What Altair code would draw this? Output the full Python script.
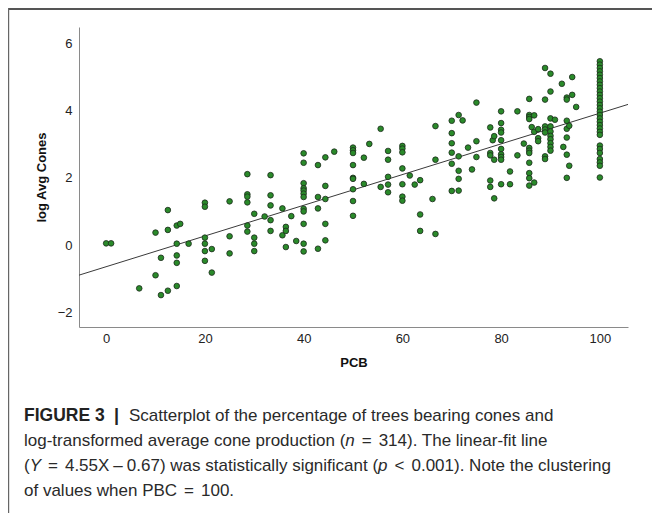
import altair as alt
import pandas as pd

# ---- data ----
pcb_columns = [0, 1, 6.7, 10, 11.1, 12.5, 14.3, 15, 16.7, 20, 21.4, 25, 28.6, 30, 32.1,
               33.3, 35.7, 36.4, 37.5, 38.5, 40, 42.9, 44.4, 46.2, 50, 52.2, 53.3, 55.6,
               57.1, 60, 61.5, 62.5, 63.6, 66.1, 66.7, 70, 71.4, 72.2, 73.3, 74.1, 75,
               77.8, 78.3, 78.6, 80, 81.8, 83.3, 84.6, 85.7, 86.2, 86.7, 87.5, 88.9, 90,
               90.9, 92.3, 92.6, 93.3, 93.8, 94.4, 95.2, 100]
log_cones_by_pcb = [
    [0.05], [0.05], [-1.29], [0.37, -0.9], [-0.38, -1.49], [1.04, 0.45, -1.36],
    [0.58, 0.04, -0.31, -0.53, -1.22], [0.63], [0.04],
    [1.26, 1.14, 0.22, 0.04, -0.18, -0.47], [-0.12, -0.82], [1.3, 0.26, -0.25],
    [2.11, 1.51, 1.44, 1.27, 0.58, 0.4], [0.93, 0.22, 0.04, -0.18], [0.85],
    [2.08, 1.48, 1.18, 0.74, 0.42], [1.09, 0.29], [0.54, 0.42, -0.06], [0.86], [0.12],
    [2.73, 2.45, 1.84, 1.69, 1.62, 1.53, 1.43, 1.08, 1.0, 0.63, 0.04, -0.19],
    [2.38, 1.43, 1.09, -0.11], [2.61, 1.76, 1.37, 0.63, 0.14], [2.78],
    [2.9, 2.82, 2.74, 2.38, 2.0, 1.97, 1.66, 1.31, 0.87], [2.6, 1.82], [3.01],
    [3.46, 1.73], [2.8, 2.54, 2.03, 1.8, 1.57], [2.95, 2.87, 2.76, 2.28, 1.81, 1.44, 1.32],
    [2.07], [1.8], [1.93, 0.91, 0.42], [1.37], [3.54, 2.54, 0.33],
    [3.7, 3.33, 3.03, 2.75, 2.42, 1.61], [3.87, 2.64, 2.21, 1.97, 1.62], [3.71], [2.9],
    [2.25], [4.24, 3.09, 2.62], [3.5, 2.74, 2.67, 1.92, 1.73], [3.12], [3.24, 2.54, 1.39],
    [3.98, 3.63, 3.43, 3.35, 3.12, 2.86, 2.7, 2.62, 2.54, 1.81], [2.19, 1.81], [3.98, 2.67],
    [3.02], [4.35, 3.87, 3.81, 3.75, 2.89, 2.81, 2.74, 2.45, 2.14, 1.99, 1.77], [3.51],
    [3.86, 3.37, 1.86], [3.45, 3.18, 3.09], [5.27, 4.33, 3.53, 3.44, 3.35, 2.64, 2.56],
    [5.1, 4.57, 3.77, 3.53, 3.38, 3.25, 3.15, 3.03, 2.92, 2.81], [3.73], [4.8], [2.92],
    [4.39, 4.33, 3.7, 3.46, 3.2, 2.69, 2.0], [3.55, 2.36], [5.0, 4.47], [4.11],
    [5.47, 5.37, 5.27, 5.17, 5.07, 4.97, 4.87, 4.77, 4.67, 4.57, 4.47, 4.37, 4.27, 4.17,
     4.07, 3.97, 3.87, 3.77, 3.67, 3.57, 3.47, 3.37, 3.28, 2.96, 2.86, 2.74, 2.56, 2.46,
     2.36, 2.01],
]
x_ticks = [0, 20, 40, 60, 80, 100]
y_ticks = [-2, 0, 2, 4, 6]
x_domain = [-5.5, 105.7]
y_domain = [-2.44, 6.49]
fit_slope = 0.0457
fit_intercept = -0.645

caption_label = "FIGURE 3"
# (text, font style, gap in px before the segment)
caption_lines = [
    [("Scatterplot of the percentage of trees bearing cones and", "normal", 0)],
    [("log-transformed average cone production (", "normal", 0), ("n", "italic", 0),
     ("=", "normal", 7), ("314). The linear-fit line", "normal", 7)],
    [("(", "normal", 0), ("Y", "italic", 0), ("=", "normal", 7), ("4.55X", "normal", 7),
     ("\u2013", "normal", 4), ("0.67) was statistically significant (", "normal", 4),
     ("p", "italic", 0), ("<", "normal", 7), ("0.001). Note the clustering", "normal", 7)],
    [("of values when PBC", "normal", 0), ("=", "normal", 7), ("100.", "normal", 7)],
]

# ---- tables ----
rows = []
for xv, ys in zip(pcb_columns, log_cones_by_pcb):
    for yv in ys:
        rows.append({"PCB": xv, "cones": yv})
pts = pd.DataFrame(rows)
fit = pd.DataFrame({"PCB": x_domain,
                    "cones": [fit_slope * v + fit_intercept for v in x_domain]})
one = pd.DataFrame({"a": [0]})

# Arial / Liberation Sans advance widths (1/1000 em) for laying out caption segments
ADV = {" ": 278, "(": 333, ")": 333, ".": 278, ",": 278, "-": 333, "\u2013": 556,
       "=": 584, "<": 584, "|": 260,
       "a": 556, "b": 556, "c": 500, "d": 556, "e": 556, "f": 278, "g": 556, "h": 556,
       "i": 222, "j": 222, "k": 500, "l": 222, "m": 833, "n": 556, "o": 556, "p": 556,
       "q": 556, "r": 333, "s": 500, "t": 278, "u": 556, "v": 500, "w": 722, "x": 500,
       "y": 500, "z": 500, "B": 667, "C": 722, "N": 722, "P": 667, "S": 667, "T": 611,
       "X": 667, "Y": 667}


def text_width(s, size):
    return sum(ADV.get(ch, 556) for ch in s) / 1000.0 * size


W, H = 549, 300
FONT = "Liberation Sans"

xenc = alt.X("PCB:Q", scale=alt.Scale(domain=x_domain, nice=False, zero=False),
             axis=alt.Axis(values=x_ticks, title="PCB", grid=False, ticks=False, tickSize=0,
                           domainColor="#8a8a8a", labelFontSize=13, labelColor="#222",
                           labelFont=FONT, labelPadding=5, titleFont=FONT, titleFontSize=13,
                           titleFontWeight="bold", titleColor="#111", titlePadding=11))
yenc = alt.Y("cones:Q", scale=alt.Scale(domain=y_domain, nice=False, zero=False),
             axis=alt.Axis(values=y_ticks, title="log Avg Cones", grid=False, ticks=False,
                           tickSize=0, domainColor="#8a8a8a", labelFontSize=13,
                           labelColor="#222", labelFont=FONT, labelPadding=7,
                           titleFont=FONT, titleFontSize=13, titleFontWeight="bold",
                           titleColor="#111", titlePadding=9))

line = alt.Chart(fit).mark_line(color="#3a3a3a", strokeWidth=1, clip=True).encode(x=xenc, y=yenc)
points = alt.Chart(pts).mark_point(filled=True, shape="circle", size=32, fill="#2a8a2a",
                                   stroke="#1c2a1c", strokeWidth=0.8, opacity=1).encode(
    x="PCB:Q", y="cones:Q")

# frame lines of the figure box
top_rule = alt.Chart(one).mark_rule(color="#555", strokeWidth=2).encode(
    x=alt.value(-71), x2=alt.value(580), y=alt.value(-18))
left_rule = alt.Chart(one).mark_rule(color="#666", strokeWidth=1.2).encode(
    x=alt.value(-70.4), y=alt.value(-19), y2=alt.value(490))

CAP_FONT = "Liberation Sans"
cap_size = 17
cap_color = "#2a2a2a"
base_y = [393.5, 418.8, 444.1, 469.4]
start_x = [50, -55, -55, -55]

texts = [
    alt.Chart(one).mark_text(align="left", baseline="alphabetic", font=CAP_FONT,
                             fontSize=17.5, fontWeight="bold", color="#222").encode(
        x=alt.value(-55), y=alt.value(base_y[0]), text=alt.value(caption_label)),
    alt.Chart(one).mark_text(align="left", baseline="alphabetic", font=CAP_FONT,
                             fontSize=18, fontWeight="bold", color="#222").encode(
        x=alt.value(35), y=alt.value(base_y[0]), text=alt.value("|")),
]
for i, segs in enumerate(caption_lines):
    xpos = start_x[i]
    for seg, style, gap in segs:
        xpos += gap
        texts.append(alt.Chart(one).mark_text(align="left", baseline="alphabetic",
                                              font=CAP_FONT, fontSize=cap_size,
                                              fontStyle=style, color=cap_color).encode(
            x=alt.value(xpos), y=alt.value(base_y[i]), text=alt.value(seg)))
        xpos += text_width(seg, cap_size)

chart = alt.layer(line, points, top_rule, left_rule, *texts).properties(
    width=W, height=H,
    autosize=alt.AutoSizeParams(type="none"),
    padding={"left": 71, "top": 19, "right": 24, "bottom": 186},
    background="white",
).configure_view(stroke=None)

chart.save("out.html", embed_options={"renderer": "svg", "actions": False})
